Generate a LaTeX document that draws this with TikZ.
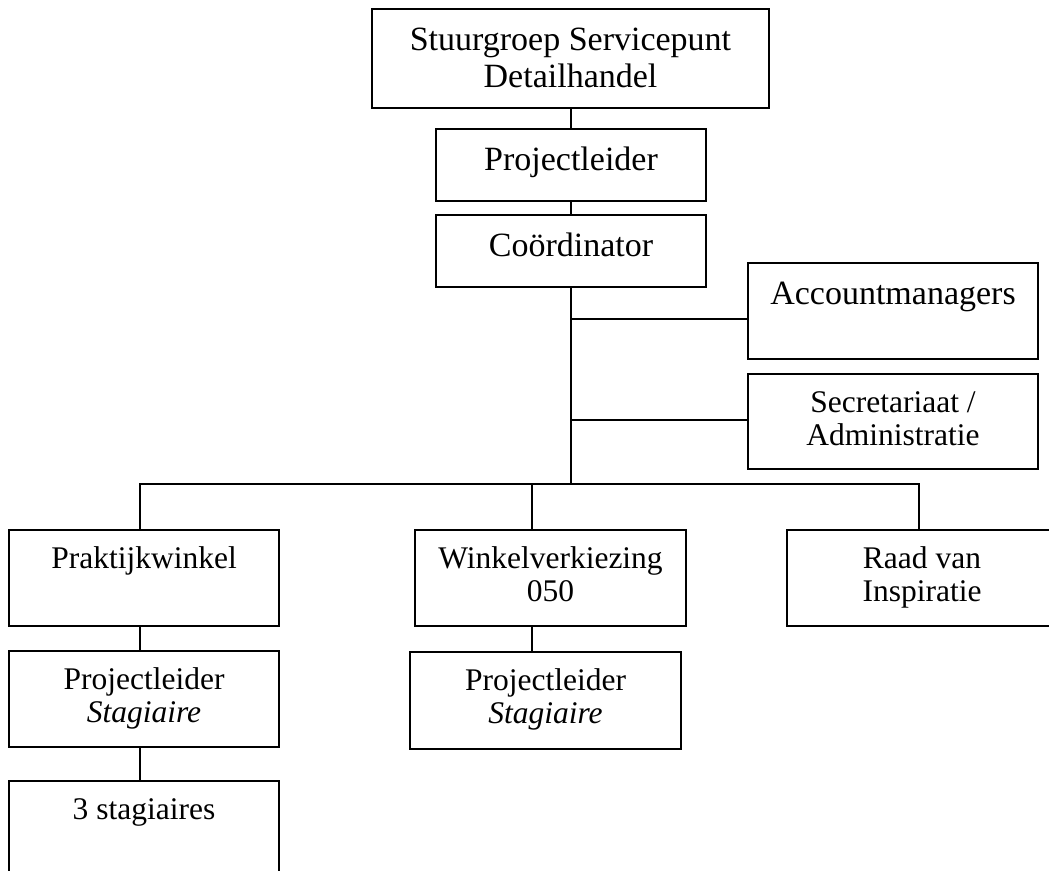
\documentclass[tikz,border=0pt]{standalone}
\usepackage{fontspec}
\setmainfont{Liberation Serif}
\tikzset{
  x=1pt,
  y=-1pt,
}
\tikzstyle{unit}=[draw,line width=2pt,inner sep=0pt,minimum width=270,minimum height=96]
\tikzstyle{conn}=[line width=2pt]
\tikzstyle{bigtext}=[anchor=base,align=center,inner sep=0pt,yshift=-42pt,font=\fontsize{34}{37}\selectfont]
\tikzstyle{txt}=[anchor=base,align=center,inner sep=0pt,yshift=-39pt,font=\fontsize{31.5}{33.5}\selectfont]
\tikzstyle{tworows}=[yshift=-33.5pt]
\tikzstyle{tworowsbig}=[yshift=-37pt]

\begin{document}
\begin{tikzpicture}
    \useasboundingbox (0,0) rectangle (1049,870);

    % top of the organisation
    \node[unit,minimum width=397,minimum height=99,label={[bigtext,tworowsbig]north:{Stuurgroep Servicepunt\\Detailhandel}}] (stuur) at (570.5,58.5) {};
    \node[unit,minimum height=72,label={[bigtext]north:Projectleider}] (leider) at (571,165) {};
    \node[unit,minimum height=72,label={[bigtext]north:Coördinator}] (coord) at (571,251) {};

    % staff
    \node[unit,minimum width=290,label={[bigtext]north:Accountmanagers}] (account) at (893,311) {};
    \node[unit,minimum width=290,minimum height=95,label={[txt,tworows]north:{Secretariaat /\\Administratie}}] (secr) at (893,421.5) {};

    % projects
    \node[unit,label={[txt]north:Praktijkwinkel}] (prak) at (144,578) {};
    \node[unit,label={[txt,tworows]north:{Projectleider\\\textit{Stagiaire}}}] (prakleider) at (144,699) {};
    \node[unit,label={[txt]north:3 stagiaires}] (stagiaires) at (144,829) {};
    \node[unit,minimum width=271,label={[txt,tworows]north:{Winkelverkiezing\\050}}] (winkel) at (550.5,578) {};
    \node[unit,minimum width=271,minimum height=97,label={[txt,tworows]north:{Projectleider\\\textit{Stagiaire}}}] (winkelleider) at (545.5,700.5) {};
    \node[unit,label={[txt,tworows]north:{Raad van\\Inspiratie}}] (raad) at (922,578) {};

    % connectors
    \coordinate (bus) at (coord.south |- 0,484);
    \draw[conn] (leider.north |- stuur.south) -- (leider.north);
    \draw[conn] (leider.south) -- (coord.north);
    \draw[conn] (coord.south) -- (bus);
    \draw[conn] (account.west |- 0,319) -- (bus |- 0,319);
    \draw[conn] (secr.west |- 0,420) -- (bus |- 0,420);
    \draw[conn] (prak.north -| 140,0) |- (bus) -| (raad.north -| 919,0);
    \draw[conn] (winkel.north -| 532,0) -- (bus -| 532,0);
    \draw[conn] (winkel.south -| 532,0) -- (winkelleider.north -| 532,0);
    \draw[conn] (prak.south -| 140,0) -- (prakleider.north -| 140,0);
    \draw[conn] (prakleider.south -| 140,0) -- (stagiaires.north -| 140,0);
\end{tikzpicture}
\end{document}
